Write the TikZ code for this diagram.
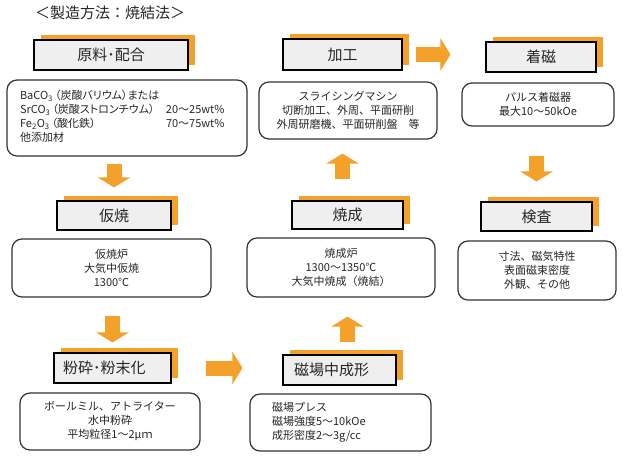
\documentclass[tikz,border=0pt]{standalone}
\usepackage{fontspec}
\setmainfont{Noto Sans CJK JP}
\newfontfamily\propfont[RawFeature=+palt]{Noto Sans CJK JP}
\usetikzlibrary{arrows.meta,shadows}
\definecolor{stepOrange}{HTML}{F4A12B}
\definecolor{stepGray}{HTML}{EFEFEF}
\definecolor{inkGray}{HTML}{262626}

\begin{document}
\begin{tikzpicture}[x=1pt, y=-1pt, every node/.style={text=inkGray},
  head/.style={draw=black, line width=1.1pt, fill=stepGray, inner sep=0pt,
    font=\fontsize{15}{18}\selectfont,
    drop shadow={shadow xshift=7pt, shadow yshift=5pt, fill=stepOrange, opacity=1}},
  memo/.style={draw=black!80, line width=1.2pt, rounded corners=10pt, inner sep=0pt,
    align=center, font=\fontsize{11}{14}\selectfont},
  flow/.style={draw=stepOrange, line width=15pt, -{Triangle[width=32pt, length=10pt]}}]
  \path[use as bounding box, fill=white] (0,0) rectangle (623,456);

  \node[font=\fontsize{15}{18}\selectfont] (title) at (110,13) {＜製造方法：焼結法＞};

  % left column
  \node[head, minimum width=154pt, minimum height=30pt] (h1) at (111,55) {原料･配合};
  \node[memo, minimum width=240pt, minimum height=76pt, text width=214pt, align=left,
    inner xsep=13pt, font=\propfont\fontsize{11}{14}\selectfont] (t1) at (127,118) {%
    \begin{tabular}{@{}p{146pt}@{}r@{}}
      \multicolumn{2}{@{}l@{}}{BaCO\textsubscript{3}\kern2pt（炭酸バリウム）または}\\
      SrCO\textsubscript{3}\kern2pt（炭酸ストロンチウム） & 20～25wt\%\\
      Fe\textsubscript{2}O\textsubscript{3}\kern2pt（酸化鉄） & 70～75wt\%\\
      他添加材 &
    \end{tabular}};
  \node[head, minimum width=114pt, minimum height=29pt] (h2) at (114,215.5) {仮焼};
  \node[memo, minimum width=199pt, minimum height=58pt] (t2) at (111.5,268)
    {仮焼炉\\大気中仮焼\\1300℃};
  \node[head, minimum width=117pt, minimum height=30pt, text width=99pt, align=left,
    inner xsep=9pt] (h3) at (112.5,368) {粉砕･粉末化};
  \node[memo, minimum width=180pt, minimum height=57pt] (t3) at (110,421.5)
    {ボールミル、アトライター\\水中粉砕\\平均粒径1～2μｍ};

  % middle column
  \node[head, minimum width=113pt, minimum height=30pt, text width=91pt, align=left,
    inner xsep=11pt] (h4) at (339.5,370) {磁場中成形};
  \node[memo, minimum width=181pt, minimum height=57pt, text width=137pt, align=left,
    inner xsep=22pt] (t4) at (340.5,422.5) {磁場プレス\\磁場強度5～10kOe\\成形密度2～3g/cc};
  \node[head, minimum width=111pt, minimum height=28pt] (h5) at (347.5,215) {焼成};
  \node[memo, minimum width=188pt, minimum height=59pt] (t5) at (341,267.5)
    {焼成炉\\1300～1350℃\\大気中焼成（焼結）};
  \node[head, minimum width=119pt, minimum height=31pt] (h6) at (342.5,54.5) {加工};
  \node[memo, minimum width=178pt, minimum height=57pt] (t6) at (348,110.5)
    {スライシングマシン\\切断加工、外周、平面研削\\外周研磨機、平面研削盤　等};

  % right column
  \node[head, minimum width=110pt, minimum height=30pt] (h7) at (541,57) {着磁};
  \node[memo, minimum width=152pt, minimum height=43pt] (t7) at (538,104.5)
    {パルス着磁器\\最大10～50kOe};
  \node[head, minimum width=111pt, minimum height=29pt] (h8) at (536.5,216.5) {検査};
  \node[memo, minimum width=158pt, minimum height=59pt] (t8) at (537,270.5)
    {寸法、磁気特性\\表面磁束密度\\外観、その他};

  % flow arrows
  \draw[flow, shorten <=7pt, shorten >=13pt] (h2.north |- t1.south) -- (h2.north);
  \draw[flow, shorten <=18pt, shorten >=10pt] (h3.north |- t2.south) -- (h3.north);
  \draw[flow, shorten <=34pt, shorten >=40pt] (h3.east) -- (h4.west |- h3.east);
  \draw[flow, shorten <=12pt, shorten >=19pt] (h5.south |- h4.north) -- (h5.south |- t5.south);
  \draw[flow, shorten <=21pt, shorten >=14pt] (h6.south |- h5.north) -- (h6.south |- t6.south);
  \draw[flow, shorten <=13pt, shorten >=35pt] (h6.east) -- (h7.west |- h6.east);
  \draw[flow, shorten <=29pt, shorten >=20pt] (h8.north |- t7.south) -- (h8.north);
\end{tikzpicture}
\end{document}
